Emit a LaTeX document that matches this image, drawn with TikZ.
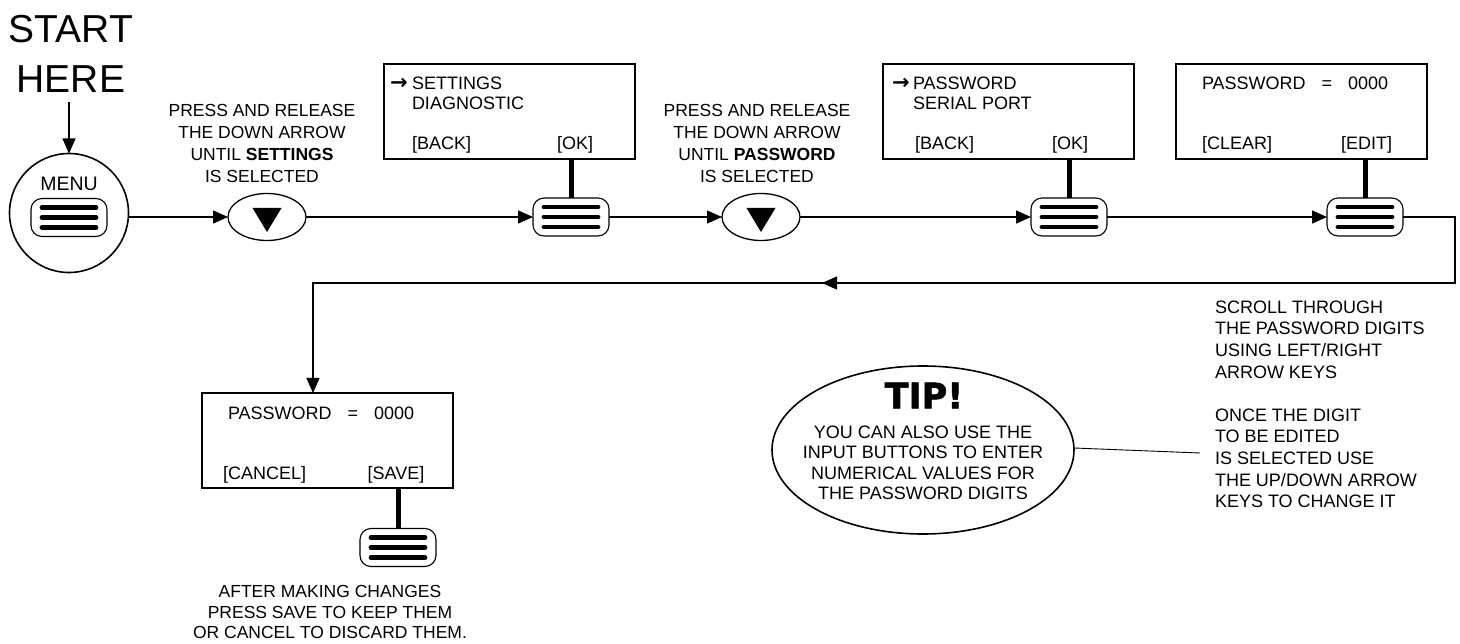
\documentclass[tikz,border=0pt]{standalone}
\usepackage{fontspec}
\setmainfont{Liberation Sans}
\newfontfamily\tipfont{DejaVu Sans}[UprightFont={* Bold}, FakeBold=1.5]
\newfontfamily\arrowfont{DejaVu Sans}[UprightFont={* Bold}]
\usetikzlibrary{arrows.meta,shapes.geometric}

% three thick bars of a menu key, centred on a node
\newcommand\drawbars[1]{%
  \foreach \dy in {-10,0,10}
    \draw[bar] ([xshift=-27pt,yshift=\dy pt]#1.center) -- ([xshift=27pt,yshift=\dy pt]#1.center);}
% solid down-pointing triangle inside an arrow key
\newcommand\drawdown[1]{%
  \fill ([xshift=-14.5pt,yshift=9pt]#1.center) -- ([xshift=14.5pt,yshift=9pt]#1.center)
        -- ([yshift=-15pt]#1.center) -- cycle;}

\begin{document}
\begin{tikzpicture}[x=1pt,y=-1pt,
  every node/.style={inner sep=0pt, outer sep=0pt},
  conn/.style={line width=1.2pt, draw=black},
  tipped/.style={-{Triangle[length=15pt,width=13pt]}},
  screen/.style={draw, line width=1.5pt, minimum width=251pt, minimum height=95pt},
  menubtn/.style={draw, line width=1.1pt, rounded corners=11pt, minimum width=76pt, minimum height=38pt},
  downbtn/.style={draw, ellipse, line width=1.3pt, minimum width=78pt, minimum height=47pt},
  stem/.style={line width=5pt},
  bar/.style={line width=4.8pt, line cap=round},
  instr/.style={font=\fontsize{17.5}{22}\selectfont, align=center, anchor=north},
  scr/.style={font=\fontsize{18}{22}\selectfont, anchor=base west},
  scrc/.style={font=\fontsize{18}{22}\selectfont, anchor=base},
  pointer/.style={font=\arrowfont\fontsize{21}{22}\selectfont, anchor=base west},
  note/.style={font=\fontsize{18}{21.7}\selectfont, align=left, anchor=north west},
]
\useasboundingbox (0,0) rectangle (1460,644);

% ---- start ----
\node[font=\fontsize{39}{50}\selectfont, align=center, anchor=north] (start) at (71,15) {START\\HERE};
\node[circle, draw, line width=1.6pt, minimum size=119pt] (menu) at (69,213) {};
\node[font=\fontsize{19.5}{20}\selectfont] (menulbl) at (69,183.5) {MENU};
\node[menubtn] (b1) at (69,217.5) {};
\drawbars{b1}
\draw[conn,tipped] ([yshift=-10pt]start.south -| menu.north) -- (menu.north);

% ---- first down key ----
\node[instr] (ins1) at (262,104.7) {PRESS AND RELEASE\\THE DOWN ARROW\\UNTIL \textbf{SETTINGS}\\IS SELECTED};
\node[downbtn] (e1) at (267,217) {};
\drawdown{e1}

% ---- screen 1 ----
\node[screen] (box1) at (509.5,111.5) {};
\node[pointer] (a1) at (390,89.4) {→};
\node[scr] (s1a) at (412,89.4) {SETTINGS};
\node[scr] (s1b) at (412,109.4) {DIAGNOSTIC};
\node[scr] (s1c) at (412,149.4) {[BACK]};
\node[scrc] (s1d) at (575,149.4) {[OK]};
\node[menubtn] (b2) at (571,217) {};
\drawbars{b2}
\draw[stem] (b2.north |- box1.south) -- (b2.north);

% ---- second down key ----
\node[instr] (ins2) at (757,104.7) {PRESS AND RELEASE\\THE DOWN ARROW\\UNTIL \textbf{PASSWORD}\\IS SELECTED};
\node[downbtn] (e2) at (761,217) {};
\drawdown{e2}

% ---- screen 2 ----
\node[screen] (box2) at (1008.5,111.5) {};
\node[pointer] (a2) at (892,89.4) {→};
\node[scr] (s2a) at (913,89.4) {PASSWORD};
\node[scr] (s2b) at (913,109.4) {SERIAL PORT};
\node[scr] (s2c) at (915,149.4) {[BACK]};
\node[scrc] (s2d) at (1070,149.4) {[OK]};
\node[menubtn] (b3) at (1069,217) {};
\drawbars{b3}
\draw[stem] (b3.north |- box2.south) -- (b3.north);

% ---- screen 3 ----
\node[screen] (box3) at (1301.5,111.5) {};
\node[scr] (s3a) at (1202,89.4) {PASSWORD\hspace{16pt}=\hspace{16pt}0000};
\node[scr] (s3b) at (1202,149.4) {[CLEAR]};
\node[scr, anchor=base east] (s3c) at (1392,149.4) {[EDIT]};
\node[menubtn] (b4) at (1365,217) {};
\drawbars{b4}
\draw[stem] (b4.north |- box3.south) -- (b4.north);

% ---- main flow ----
\draw[conn,tipped] (menu.east |- e1.west) -- (e1.west);
\draw[conn,tipped] (e1.east) -- (b2.west);
\draw[conn,tipped] (b2.east) -- (e2.west);
\draw[conn,tipped] (e2.east) -- (b3.west);
\draw[conn,tipped] (b3.east) -- (b4.west);

% ---- return path to the edit screen ----
\node[screen] (box4) at (327.5,440.5) {};
\node[scr] (s4a) at (228,419.4) {PASSWORD\hspace{16pt}=\hspace{16pt}0000};
\node[scr] (s4b) at (223,479.4) {[CANCEL]};
\node[scrc] (s4c) at (396,479.4) {[SAVE]};
\node[menubtn] (b5) at (398,547.5) {};
\drawbars{b5}
\draw[stem] (b5.north |- box4.south) -- (b5.north);

\coordinate (r1) at (1455,217);
\coordinate (r2) at (1455,283);
\coordinate (r3) at (313,283);
\coordinate (mid) at (822,283);
\draw[conn,tipped] (b4.east) -- (r1) -- (r2) -- (r3) -- (box4.north -| r3);
\draw[conn,tipped] (r2) -- (mid);

\node[instr, font=\fontsize{17.5}{20.5}\selectfont] (after) at (330,585.7)
  {AFTER MAKING CHANGES\\PRESS SAVE TO KEEP THEM\\OR CANCEL TO DISCARD THEM.};

% ---- notes ----
\node[note] (scroll) at (1215,300.5) {SCROLL THROUGH\\THE PASSWORD DIGITS\\USING LEFT/RIGHT\\ARROW KEYS};
\node[note] (digit) at (1215,408.5) {ONCE THE DIGIT\\TO BE EDITED\\IS SELECTED USE\\THE UP/DOWN ARROW\\KEYS TO CHANGE IT};

% ---- tip bubble ----
\node[ellipse, draw, line width=1.6pt, minimum width=302pt, minimum height=168pt] (tipbox) at (923,450) {};
\node[font=\tipfont\fontsize{35}{35}\selectfont] (tiplbl) at (924,395.5) {TIP!};
\node[font=\fontsize{18}{20.5}\selectfont, align=center, anchor=north] (tiptxt) at (923,425.5)
  {YOU CAN ALSO USE THE\\INPUT BUTTONS TO ENTER\\NUMERICAL VALUES FOR\\THE PASSWORD DIGITS};
\coordinate (tipend) at (1200,453);
\draw[line width=0.9pt] ([yshift=2pt]tipbox.east) -- (tipend);
\end{tikzpicture}
\end{document}
